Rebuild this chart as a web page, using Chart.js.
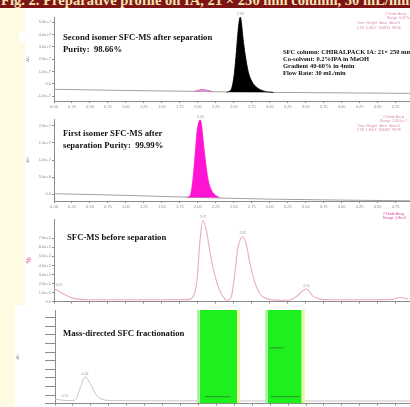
<!DOCTYPE html>
<html>
<head>
<meta charset="utf-8">
<title>Preparative SFC profile</title>
<script src="https://cdn.jsdelivr.net/npm/chart.js@4.4.1/dist/chart.umd.min.js"></script>
<style>
  html, body { margin: 0; padding: 0; }
  body { width: 410px; height: 407px; overflow: hidden; position: relative; background: #fffbe3; font-family: "Liberation Serif", serif; }
  .sheet { position: absolute; background: #fff; }
  #title { position: absolute; left: 0; top: 0; width: 410px; height: 8px; background: #7d1416; overflow: hidden; }
  #title span { position: absolute; left: 1px; top: -7px; white-space: nowrap; font: bold 14.6px/15px "Liberation Serif", serif; color: #f6e4b0; }
  canvas { position: absolute; }
  .note { position: absolute; font-weight: bold; color: #111; white-space: nowrap; font-size: 8.7px; line-height: 12px; }
  .cond { position: absolute; font-weight: bold; color: #111; white-space: nowrap; font-size: 6.5px; line-height: 7px; }
  .tiny { position: absolute; font: 3.5px/4px "Liberation Sans", sans-serif; color: #d98ab0; white-space: nowrap; }
</style>
</head>
<body>
<div id="title"><span>Fig. 2. Preparative profile on IA, 21 × 250 mm column, 30 mL/min</span></div>
<div class="sheet" style="left:25px;top:8px;width:385px;height:201px"></div>
<div class="sheet" style="left:19px;top:33px;width:8px;height:9px"></div>
<div class="sheet" style="left:25px;top:209px;width:385px;height:96px"></div>
<div class="sheet" style="left:15px;top:305px;width:395px;height:102px"></div>

<canvas id="c1" width="385" height="100" style="left:25px;top:11px"></canvas>
<canvas id="c2" width="385" height="108" style="left:25px;top:104px"></canvas>
<canvas id="c3" width="385" height="96" style="left:25px;top:209px"></canvas>
<canvas id="c4" width="395" height="102" style="left:15px;top:305px"></canvas>

<div class="note" style="left:63px;top:31px">Second isomer SFC-MS after separation<br>Purity:&nbsp; 98.66%</div>
<div class="cond" style="left:283px;top:48px">SFC column: CHIRALPACK IA: 21× 250 mm<br>Co-solvent: 0.2%IPA in MeOH<br>Gradient 40-60% in 4min<br>Flow Rate: 30 mL/min</div>
<div class="tiny" style="left:385px;top:12px">2 Diode Array</div>
<div class="tiny" style="left:387px;top:16px">Range: 6.627e+7</div>
<div class="tiny" style="left:357px;top:21px">Time&nbsp; Height&nbsp;&nbsp; Area&nbsp;&nbsp; Area%</div>
<div class="tiny" style="left:357px;top:26px">2.59&nbsp; 6.49e7&nbsp; 154823&nbsp; 98.66</div>

<div class="note" style="left:63px;top:127px">First isomer SFC-MS after<br>separation Purity:&nbsp; 99.99%</div>
<div class="tiny" style="left:383px;top:115px">2 Diode Array</div>
<div class="tiny" style="left:380px;top:119px">Range: 1.802e+7</div>
<div class="tiny" style="left:357px;top:124px">Time&nbsp; Height&nbsp;&nbsp; Area&nbsp;&nbsp; Area%</div>
<div class="tiny" style="left:357px;top:128px">2.03&nbsp; 1.80e7&nbsp; 203482&nbsp; 99.99</div>

<div class="note" style="left:67px;top:231px">SFC-MS before separation</div>
<div class="tiny" style="left:383px;top:212px;color:#e0409a">2 Diode Array</div>
<div class="tiny" style="left:383px;top:216px;color:#e0409a">Range: 1.8e+6</div>

<div class="note" style="left:63px;top:327px">Mass-directed SFC fractionation</div>

<script>
// retention time axis (min)
const timeMin = 0;
const timeMax = 4.95;
const timeStep = 0.25;

// panel 1: second isomer after separation
const iso2Time = [2.40, 2.46, 2.50, 2.53, 2.555, 2.575, 2.59, 2.605, 2.63, 2.66, 2.70, 2.75, 2.82, 2.92, 3.05];
const iso2Signal = [-0.68, -0.5, 0.5, 2.2, 4.0, 5.1, 5.4, 5.0, 3.6, 2.3, 1.0, 0.2, -0.3, -0.6, -0.7];
const iso2ImpTime = [1.95, 2.02, 2.07, 2.12, 2.20];
const iso2ImpSignal = [-0.62, -0.52, -0.46, -0.52, -0.63];
const base1Time = [0.00, 1.00, 2.00, 2.50, 3.50, 4.95];
const base1Signal = [-0.45, -0.55, -0.62, -0.68, -0.72, -0.78];
const yLabels1 = ['-1.0e+7', '0.0', '1.0e+7', '2.0e+7', '3.0e+7', '4.0e+7', '5.0e+7'];
const peaks1 = [{ t: 2.59, v: 5.4, text: '2.59' }];

// panel 2: first isomer after separation
const iso1Time = [1.85, 1.89, 1.93, 1.96, 1.99, 2.02, 2.035, 2.05, 2.08, 2.11, 2.14, 2.18, 2.24, 2.30];
const iso1Signal = [-0.19, -0.12, 0.8, 2.2, 3.7, 4.3, 4.35, 4.1, 2.9, 1.8, 0.9, 0.3, -0.05, -0.2];
const base2Time = [0.00, 1.00, 2.00, 3.00, 4.95];
const base2Signal = [0.02, -0.08, -0.2, -0.3, -0.4];
const yLabels2 = ['0.0', '5.0e+6', '1.0e+7', '1.5e+7', '2.0e+7'];
const peaks2 = [{ t: 2.035, v: 4.35, text: '2.03' }];

// panel 3: racemate before separation
const beforeTime = [0.00, 0.08, 0.15, 0.29, 0.50, 1.00, 1.50, 1.85, 1.93, 1.99, 2.03, 2.07, 2.125, 2.17, 2.24, 2.31, 2.375, 2.40, 2.44, 2.47,
  2.51, 2.555, 2.625, 2.68, 2.72, 2.79, 2.86, 2.96, 3.14, 3.28, 3.375, 3.51, 3.60, 3.69, 3.85, 4.30, 4.70, 4.80, 4.92];
const beforeSignal = [1.4, 1.1, 0.76, 0.33, 0.2, 0.2, 0.2, 0.22, 0.5, 2.5, 6.8, 9.0, 7.6, 5.4, 2.8, 1.1, 0.3, 0.15, 0.25, 0.65,
  2.8, 5.8, 7.2, 6.1, 4.35, 2.2, 0.9, 0.33, 0.15, 0.18, 0.6, 1.4, 0.6, 0.3, 0.2, 0.2, 0.25, 0.45, 0.3];
const yLabels3 = ['0.0', '1.0e+5', '2.0e+5', '3.0e+5', '4.0e+5', '5.0e+5', '6.0e+5', '7.0e+5'];
const peaks3 = [
  { t: 0.07, v: 1.5, text: '0.01' },
  { t: 2.07, v: 9.0, text: '2.07' },
  { t: 2.625, v: 7.2, text: '2.62' },
  { t: 3.51, v: 1.4, text: '3.51' }
];

// panel 4: mass-directed fractionation
const uvTime = [0.00, 0.10, 0.20, 0.28, 0.35, 0.42, 0.50, 0.56, 0.63, 0.80, 1.50, 3.00, 4.95];
const uvSignal = [5, 4, 3.5, 4, 18, 31, 22, 12, 6, 3.5, 3.2, 3.0, 3.0];
const fracStart = [2.02, 2.97];
const fracEnd = [2.54, 3.44];
// trigger traces seen through the collected windows
const trigTime = [[2.09, 2.45], [2.99, 3.19], [3.01, 3.41]];
const trigSignal = [8, 65, 8];
const peaks4 = [{ t: 0.14, v: 5, text: '0.15' }, { t: 0.42, v: 31, text: '0.42' }];

const peakLabelPlugin = {
  id: 'peakLabels',
  afterDatasetsDraw(chart, args, opts) {
    const { ctx, scales: { x, y } } = chart;
    ctx.save();
    ctx.font = '3.5px "Liberation Sans"';
    ctx.fillStyle = opts.color || '#999';
    ctx.textAlign = 'center';
    (opts.labels || []).forEach(l => ctx.fillText(l.text, x.getPixelForValue(l.t), y.getPixelForValue(l.v) - 2));
    ctx.restore();
  }
};

function trace(time, signal, color, width, fillTo, fillColor) {
  return {
    data: time.map((t, i) => ({ x: t, y: signal[i] })),
    borderColor: color,
    borderWidth: width,
    backgroundColor: fillColor || color,
    fill: fillTo === undefined ? false : { value: fillTo },
    pointRadius: 0,
    cubicInterpolationMode: 'monotone',
    clip: false
  };
}

function band(from, to, top, color) {
  return {
    data: [{ x: from, y: 0 }, { x: from, y: top }, { x: to, y: top }, { x: to, y: 0 }],
    borderWidth: 0,
    backgroundColor: color,
    fill: 'origin',
    pointRadius: 0,
    tension: 0
  };
}

function segment(span, level, color) {
  return {
    data: [{ x: span[0], y: level }, { x: span[1], y: level }],
    borderColor: color,
    borderWidth: 0.8,
    fill: false,
    pointRadius: 0
  };
}

function xAxis(height, showLabels) {
  return {
    type: 'linear', min: timeMin, max: timeMax,
    afterFit: s => { s.height = height; },
    border: { color: '#8c8c8c', width: 1 },
    grid: { drawOnChartArea: false, tickLength: 2, color: '#8c8c8c' },
    ticks: {
      display: showLabels, stepSize: timeStep, includeBounds: false, autoSkip: false, maxRotation: 0,
      padding: 1, color: '#8c8c8c', font: { size: 4, family: 'Liberation Sans' },
      callback: v => v.toFixed(2)
    }
  };
}

function yAxis(min, max, step, labels, width, title, titleColor, tickLen, topTick) {
  return {
    min: min, max: max,
    afterFit: s => { s.width = width; },
    afterBuildTicks: s => { s.ticks = s.ticks.filter(t => t.value <= topTick); },
    border: { color: '#8c8c8c', width: 1 },
    grid: { drawOnChartArea: false, tickLength: tickLen, color: '#8c8c8c' },
    title: { display: true, text: title, color: titleColor, font: { size: titleColor === '#999' ? 4 : 7, family: 'Liberation Sans' }, padding: 0 },
    ticks: {
      stepSize: step, includeBounds: false, autoSkip: false, padding: 1, color: '#8c8c8c',
      font: { size: 4, family: 'Liberation Sans' },
      callback: (v, i) => labels[i] !== undefined ? labels[i] : ''
    }
  };
}

function makeChart(id, datasets, padTop, x, y, labels) {
  return new Chart(document.getElementById(id), {
    type: 'line',
    data: { datasets: datasets },
    plugins: [peakLabelPlugin],
    options: {
      responsive: false,
      animation: false,
      devicePixelRatio: 1,
      events: [],
      layout: { padding: { top: padTop, left: 0, right: 0, bottom: 0 } },
      scales: { x: x, y: y },
      plugins: { legend: { display: false }, tooltip: { enabled: false }, peakLabels: { labels: labels } }
    }
  });
}

makeChart('c1', [
  trace(iso2Time, iso2Signal, '#000', 0.8, -0.68, '#000'),
  trace(iso2ImpTime, iso2ImpSignal, '#d94fb8', 0.8, -0.62, '#ea95d6'),
  trace(base1Time, base1Signal, '#a0a0a0', 1)
], 6, xAxis(10, true), yAxis(-1.4, 5.41, 1, yLabels1, 29, 'AU', '#999', 2, 5), peaks1);

makeChart('c2', [
  trace(iso1Time, iso1Signal, '#ff14d4', 0.8, -0.2, '#ff14d4'),
  trace(base2Time, base2Signal, '#a0a0a0', 1)
], 15, xAxis(11, true), yAxis(-0.41, 4.41, 1, yLabels2, 29, 'AU', '#999', 2, 4), peaks2);

makeChart('c3', [
  trace(beforeTime, beforeSignal, '#e8aebe', 1.1)
], 10, xAxis(2, false), yAxis(0, 9.13, 1, yLabels3, 29, '%', '#e0608a', 2, 7), peaks3);

const bandTop = 109;
makeChart('c4', [
  ...trigTime.map((span, i) => segment(span, trigSignal[i], '#2f7a2f')),
  ...fracStart.map((s, i) => band(s, fracEnd[i], bandTop, '#1ef01e')),
  ...fracStart.map(s => band(s - 0.04, s, bandTop, '#a8f2a0')),
  ...fracEnd.map(e => band(e, e + 0.045, bandTop, '#eef5a0')),
  trace(uvTime, uvSignal, '#c4c4c4', 1)
], 5, xAxis(2, false), yAxis(0, 109, 10, [], 40, 'AU', '#999', 10, 100), peaks4);
</script>
</body>
</html>
